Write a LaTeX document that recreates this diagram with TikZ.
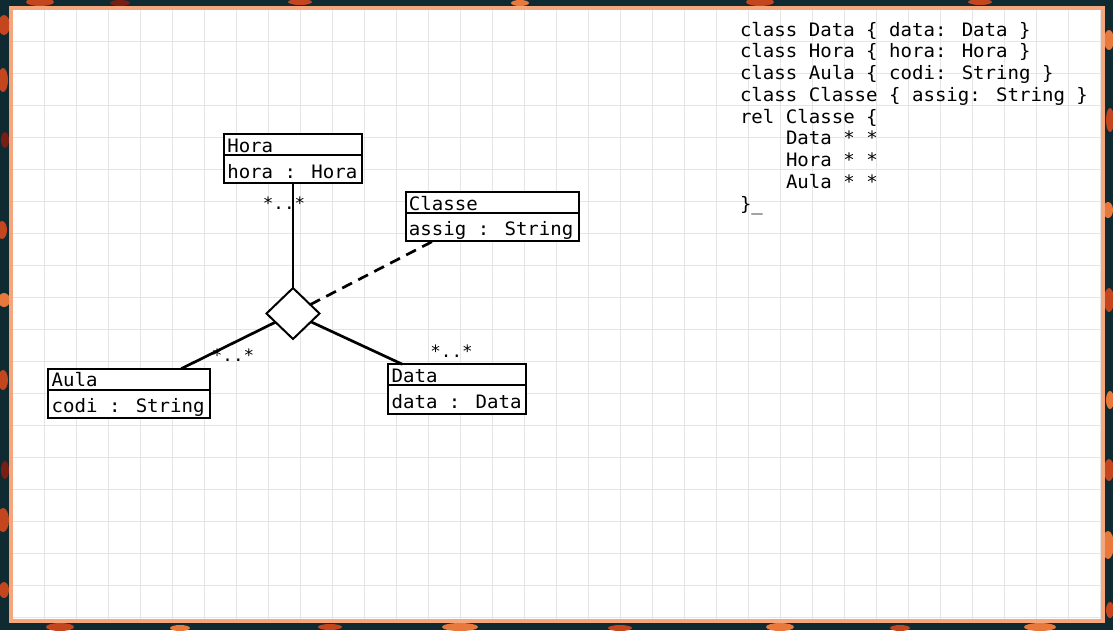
\documentclass[tikz,border=0pt]{standalone}
\usepackage{fontspec}
\usetikzlibrary{shapes.geometric,calc}
\newfontfamily\umlmono[FakeStretch=1.03]{DejaVu Sans Mono}
\definecolor{framec}{RGB}{244,166,124}
\definecolor{gridc}{RGB}{229,229,229}
\definecolor{bgdark}{RGB}{16,42,50}
\definecolor{leafa}{RGB}{196,70,30}
\definecolor{leafb}{RGB}{232,120,60}
\definecolor{leafc}{RGB}{120,30,20}
\newcommand\umlclass[6]{%
  \node[classbox, minimum width=#3, minimum height=#4] (#1) at #2 {};
  \draw[boxline] ([yshift=-21]#1.north west) -- ([yshift=-21]#1.north east);
  \node[txt, anchor=base west] (#1-title) at ([xshift=3.3, yshift=-18.3]#1.north west) {#5};
  \node[txt, anchor=base west] (#1-attr) at ([xshift=3.3, yshift=-44]#1.north west) {#6};
}
\tikzset{
  classbox/.style={draw=black, fill=white, line width=2, inner sep=0, outer sep=0},
  boxline/.style={draw=black, line width=2},
  txt/.style={inner sep=0, outer sep=0, font=\umlmono\fontsize{18.5}{22}\selectfont},
  multlabel/.style={inner sep=0, outer sep=0, anchor=base, font=\umlmono\fontsize{17}{20}\selectfont},
  codeline/.style={inner sep=0, outer sep=0, anchor=base west, font=\umlmono\fontsize{18.5}{22}\selectfont},
  relbox/.style={diamond, draw=black, fill=white, line width=2, inner sep=0, outer sep=0, minimum width=53, minimum height=51},
  conn/.style={draw=black, line width=2.7},
  dashconn/.style={draw=black, line width=2.7, dash pattern=on 11 off 7},
  gridline/.style={draw=gridc, line width=1},
}
\begin{document}
\begin{tikzpicture}[x=1pt,y=-1pt]
\useasboundingbox (0,0) rectangle (1113,630);
% background outside the frame
\fill[bgdark] (0,0) rectangle (1113,630);
\foreach \px/\py/\rx/\ry/\c in {
  4/25/6/10/leafa, 3/80/5/12/leafa, 5/140/4/8/leafc, 2/230/5/9/leafa, 4/300/6/7/leafb,
  3/380/5/10/leafa, 5/470/4/9/leafc, 3/520/6/12/leafa, 4/590/5/8/leafa,
  40/2/14/4/leafa, 120/3/10/3/leafc, 300/2/12/3/leafa, 520/3/9/3/leafb, 760/2/14/4/leafa, 980/2/12/3/leafa,
  1109/40/5/10/leafb, 1110/120/4/12/leafa, 1108/210/5/8/leafb, 1109/300/5/12/leafa, 1110/400/4/9/leafb,
  1109/470/5/11/leafa, 1108/545/6/14/leafb, 1110/610/4/8/leafa,
  60/627/14/4/leafa, 180/628/10/3/leafb, 330/627/12/3/leafa, 460/627/18/4/leafb, 620/628/12/3/leafa,
  780/627/14/4/leafb, 900/628/10/3/leafa, 1040/627/16/4/leafb}
  \fill[\c] (\px,\py) ellipse [x radius=\rx, y radius=\ry];
% frame and sheet
\fill[framec] (9,6) rectangle (1105,623);
\fill[white] (13,10) rectangle (1101,619);
\begin{scope}
  \clip (13,10) rectangle (1101,619);
  \foreach \gx in {12,44,...,1100} \draw[gridline] (\gx,10) -- (\gx,619);
  \foreach \gy in {9,41,...,617} \draw[gridline] (13,\gy) -- (1101,\gy);
\end{scope}
% relation diamond
\node[relbox] (rel) at (293,313.5) {};
% classes
\umlclass{hora}{(293,158.7)}{138}{48.7}{Hora}{hora : Hora}
\umlclass{classe}{(492.3,216.2)}{173.3}{49}{Classe}{assig : String}
\umlclass{data}{(457,389)}{137.4}{49.4}{Data}{data : Data}
\umlclass{aula}{(129.2,393.3)}{161.7}{49.3}{Aula}{codi : String}
% connector end points on the boxes
\coordinate (aula-end) at ($(aula.north west)!0.822!(aula.north east)$);
\coordinate (data-end) at ($(data.north west)!0.103!(data.north east)$);
\coordinate (classe-end) at ($(classe.south west)!0.163!(classe.south east)$);
% connectors
\draw[conn] (rel) -- (hora);
\draw[conn] (rel) -- (aula-end);
\draw[conn] (rel) -- (data-end);
\draw[dashconn] (rel) -- (classe-end);
% multiplicities
\node[multlabel] (mult-hora) at (284,209.5) {*..*};
\node[multlabel] (mult-aula) at (233,361.5) {*..*};
\node[multlabel] (mult-data) at (451.5,357.5) {*..*};
% source text
\node[codeline] (code1) at (740,36) {class Data \{ data: Data \}};
\node[codeline] (code2) at (740,57.75) {class Hora \{ hora: Hora \}};
\node[codeline] (code3) at (740,79.5) {class Aula \{ codi: String \}};
\node[codeline] (code4) at (740,101.25) {class Classe \{ assig: String \}};
\node[codeline] (code5) at (740,123) {rel Classe \{};
\node[codeline] (code6) at (786,144.75) {Data * *};
\node[codeline] (code7) at (786,166.5) {Hora * *};
\node[codeline] (code8) at (786,188.25) {Aula * *};
\node[codeline] (code9) at (740,210) {\}\_};
\end{tikzpicture}
\end{document}
